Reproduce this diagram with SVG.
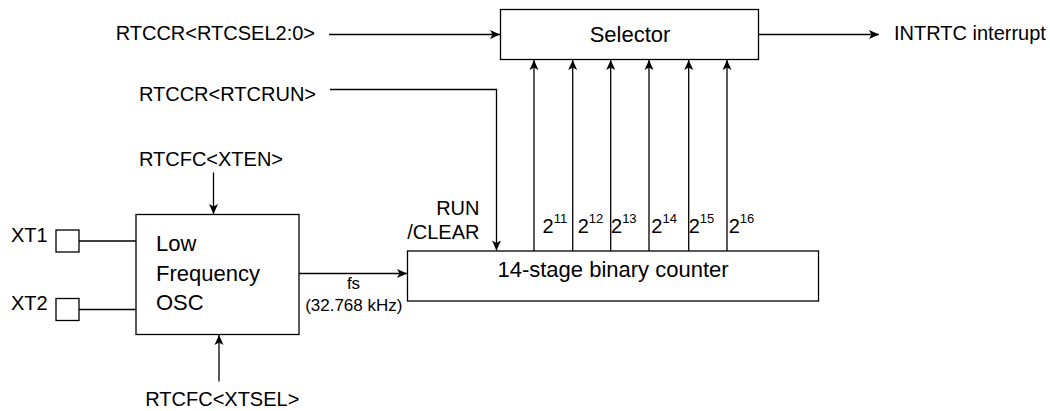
<svg xmlns="http://www.w3.org/2000/svg" width="1050" height="411" viewBox="0 0 1050 411">
<style>
.box{fill:#fff;stroke:#000;stroke-width:1.3}
.ln{fill:none;stroke:#000;stroke-width:1.3}
.lbl{font-family:"Liberation Sans",Arial,sans-serif;font-size:20px;fill:#000}
.big{font-family:"Liberation Sans",Arial,sans-serif;font-size:22px;fill:#000}
.sm{font-family:"Liberation Sans",Arial,sans-serif;font-size:17px;fill:#000}
.sup{font-size:13px}
</style>
<defs>
<marker id="arr" viewBox="-10 -5 10 10" refX="0" refY="0" markerWidth="10" markerHeight="10" markerUnits="userSpaceOnUse" orient="auto">
<path d="M0,0 L-10,-4.5 L-7.5,0 L-10,4.5 Z" fill="#000"/>
</marker>
</defs>
<rect width="1050" height="411" fill="#fff"/>
<g id="connectors">
<line class="ln" x1="329" y1="34.5" x2="500" y2="34.5" marker-end="url(#arr)"/>
<line class="ln" x1="758.5" y1="34.5" x2="879" y2="34.5" marker-end="url(#arr)"/>
<path class="ln" d="M330,89.5 H496.5 V250.5" marker-end="url(#arr)"/>
<line class="ln" x1="213.5" y1="172.5" x2="213.5" y2="214" marker-end="url(#arr)"/>
<line class="ln" x1="219" y1="381.5" x2="219" y2="335" marker-end="url(#arr)"/>
<line class="ln" x1="299" y1="273.5" x2="407" y2="273.5" marker-end="url(#arr)"/>
<line class="ln" x1="79" y1="241" x2="136" y2="241"/>
<line class="ln" x1="79" y1="309.5" x2="136" y2="309.5"/>
<line class="ln" x1="534" y1="251" x2="534" y2="60" marker-end="url(#arr)"/>
<line class="ln" x1="572.7" y1="251" x2="572.7" y2="60" marker-end="url(#arr)"/>
<line class="ln" x1="610.7" y1="251" x2="610.7" y2="60" marker-end="url(#arr)"/>
<line class="ln" x1="649" y1="251" x2="649" y2="60" marker-end="url(#arr)"/>
<line class="ln" x1="688.7" y1="251" x2="688.7" y2="60" marker-end="url(#arr)"/>
<line class="ln" x1="727" y1="251" x2="727" y2="60" marker-end="url(#arr)"/>
</g>
<g id="selector">
<rect class="box" x="500.5" y="9.5" width="258" height="50"/>
<text class="big" x="630" y="42" text-anchor="middle">Selector</text>
</g>
<g id="counter">
<rect class="box" x="407.5" y="251" width="411" height="50"/>
<text class="big" x="613" y="277" text-anchor="middle">14-stage binary counter</text>
</g>
<g id="osc">
<rect class="box" x="136" y="214.5" width="163" height="120"/>
<text class="big" x="156" y="251">Low</text>
<text class="big" x="156" y="280.5">Frequency</text>
<text class="big" x="156" y="310">OSC</text>
</g>
<g id="xt1">
<rect class="box" x="56" y="230" width="23" height="22"/>
<text class="lbl" x="11" y="242">XT1</text>
</g>
<g id="xt2">
<rect class="box" x="56" y="298.5" width="23" height="22"/>
<text class="lbl" x="11" y="310">XT2</text>
</g>
<g id="labels">
<text class="lbl" x="315" y="39.5" text-anchor="end">RTCCR&lt;RTCSEL2:0&gt;</text>
<text class="lbl" x="894" y="39.5">INTRTC interrupt</text>
<text class="lbl" x="316" y="101" text-anchor="end">RTCCR&lt;RTCRUN&gt;</text>
<text class="lbl" x="211" y="166" text-anchor="middle">RTCFC&lt;XTEN&gt;</text>
<text class="lbl" x="222.3" y="406" text-anchor="middle">RTCFC&lt;XTSEL&gt;</text>
<text class="lbl" x="479.5" y="215" text-anchor="end">RUN</text>
<text class="lbl" x="479.5" y="239" text-anchor="end">/CLEAR</text>
<text class="sm" x="353.5" y="289" text-anchor="middle">fs</text>
<text class="sm" x="353.8" y="310.5" text-anchor="middle">(32.768 kHz)</text>
<text class="lbl" x="542.5" y="233.3">2<tspan class="sup" dy="-10">11</tspan></text>
<text class="lbl" x="577.7" y="233.3">2<tspan class="sup" dy="-10">12</tspan></text>
<text class="lbl" x="611" y="233.3">2<tspan class="sup" dy="-10">13</tspan></text>
<text class="lbl" x="651.3" y="233.3">2<tspan class="sup" dy="-10">14</tspan></text>
<text class="lbl" x="688.7" y="233.3">2<tspan class="sup" dy="-10">15</tspan></text>
<text class="lbl" x="728.7" y="233.3">2<tspan class="sup" dy="-10">16</tspan></text>
</g>
</svg>
